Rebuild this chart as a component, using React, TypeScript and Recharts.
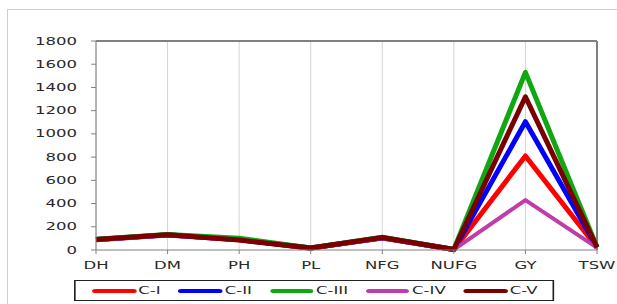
import { LineChart, Line, XAxis, YAxis, CartesianGrid, Legend, ReferenceLine } from 'recharts';

const categories = ['DH', 'DM', 'PH', 'PL', 'NFG', 'NUFG', 'GY', 'TSW'];
const cI = [88, 130, 88, 16, 104, 4, 810, 22];
const cII = [90, 132, 90, 17, 106, 4, 1105, 23];
const cIII = [92, 134, 102, 18, 110, 4, 1530, 24];
const cIV = [86, 128, 86, 15, 100, 3, 430, 20];
const cV = [90, 132, 86, 17, 108, 4, 1320, 22];
const yTicks = [0, 200, 400, 600, 800, 1000, 1200, 1400, 1600, 1800];

const seriesNames = ['C-I', 'C-II', 'C-III', 'C-IV', 'C-V'];
const seriesValues = [cI, cII, cIII, cIV, cV];
const COLORS = ['#ff0000', '#0000ff', '#10a810', '#c03ca8', '#7a0000'];

const data = categories.map((name, i) => {
  const row: any = { name };
  seriesNames.forEach((s, j) => {
    row[s] = seriesValues[j][i];
  });
  return row;
});

const FONT = '"DejaVu Sans", sans-serif';
const STRETCH = 1.65;
const AXIS = '#808080';
const M = { top: 41, right: 20, bottom: 24, left: 16 };
const Y_AXIS_W = 80;
const X_AXIS_H = 30;

const YTick = ({ x, y, payload }: any) => (
  <g transform={`translate(${x},${y}) scale(${STRETCH},1)`}>
    <text x={0} y={0} dy={3.6} textAnchor="end" fontFamily={FONT} fontSize={10} fill="#2a2a2a">
      {payload.value}
    </text>
  </g>
);

const XTick = ({ x, y, payload }: any) => (
  <g transform={`translate(${x},${y}) scale(${STRETCH},1)`}>
    <text x={0} y={0} dy={13} textAnchor="middle" fontFamily={FONT} fontSize={10} fill="#2a2a2a">
      {payload.value}
    </text>
  </g>
);

const renderLegend = ({ payload }: any) => (
  <div
    style={{
      width: 480 / STRETCH,
      height: 21,
      boxSizing: 'border-box',
      border: '1.4px solid #222',
      display: 'flex',
      alignItems: 'center',
      paddingLeft: 10,
      gap: 10.8,
      transform: `scaleX(${STRETCH})`,
      transformOrigin: 'left top',
      fontFamily: FONT,
      fontSize: 10,
      color: '#2a2a2a',
    }}
  >
    {payload.map((entry: any) => (
      <div key={entry.value} style={{ display: 'flex', alignItems: 'center' }}>
        <span
          style={{
            display: 'inline-block',
            width: 26.5,
            height: 4,
            borderRadius: 2,
            background: entry.color,
            marginRight: 1.5,
          }}
        />
        <span>{entry.value}</span>
      </div>
    ))}
  </div>
);

export default function App() {
  return (
    <div
      style={{
        position: 'absolute',
        left: 0,
        top: 0,
        width: 617,
        height: 304,
        overflow: 'hidden',
        background: '#fff',
      }}
    >
      <div
        style={{
          position: 'absolute',
          left: 7,
          top: 9,
          width: 640,
          height: 320,
          border: '1px solid #cfcfcf',
        }}
      />
      <LineChart width={617} height={304} data={data} margin={M}>
        <CartesianGrid vertical horizontal={false} stroke="#d4d4d4" strokeWidth={1} />
        <XAxis
          dataKey="name"
          height={X_AXIS_H}
          stroke={AXIS}
          tickSize={4}
          tickMargin={2}
          tick={XTick}
          interval={0}
        />
        <YAxis
          width={Y_AXIS_W}
          domain={[0, 1800]}
          ticks={yTicks}
          stroke={AXIS}
          tickSize={5}
          tickMargin={14}
          tick={YTick}
          interval={0}
        />
        {/* plot frame: top and right edges */}
        <ReferenceLine y={1800} stroke={AXIS} strokeWidth={2} ifOverflow="visible" />
        <ReferenceLine x="TSW" stroke={AXIS} strokeWidth={2} ifOverflow="visible" />
        <Legend
          layout="horizontal"
          verticalAlign="middle"
          align="center"
          wrapperStyle={{ left: 74, top: 280, width: 'auto' }}
          content={renderLegend}
        />
        {seriesNames.map((s, i) => (
          <Line
            key={s}
            dataKey={s}
            type="linear"
            stroke={COLORS[i]}
            strokeWidth={i === 3 ? 4 : 5}
            strokeLinejoin="round"
            dot={false}
            activeDot={false}
            isAnimationActive={false}
          />
        ))}
      </LineChart>
    </div>
  );
}
